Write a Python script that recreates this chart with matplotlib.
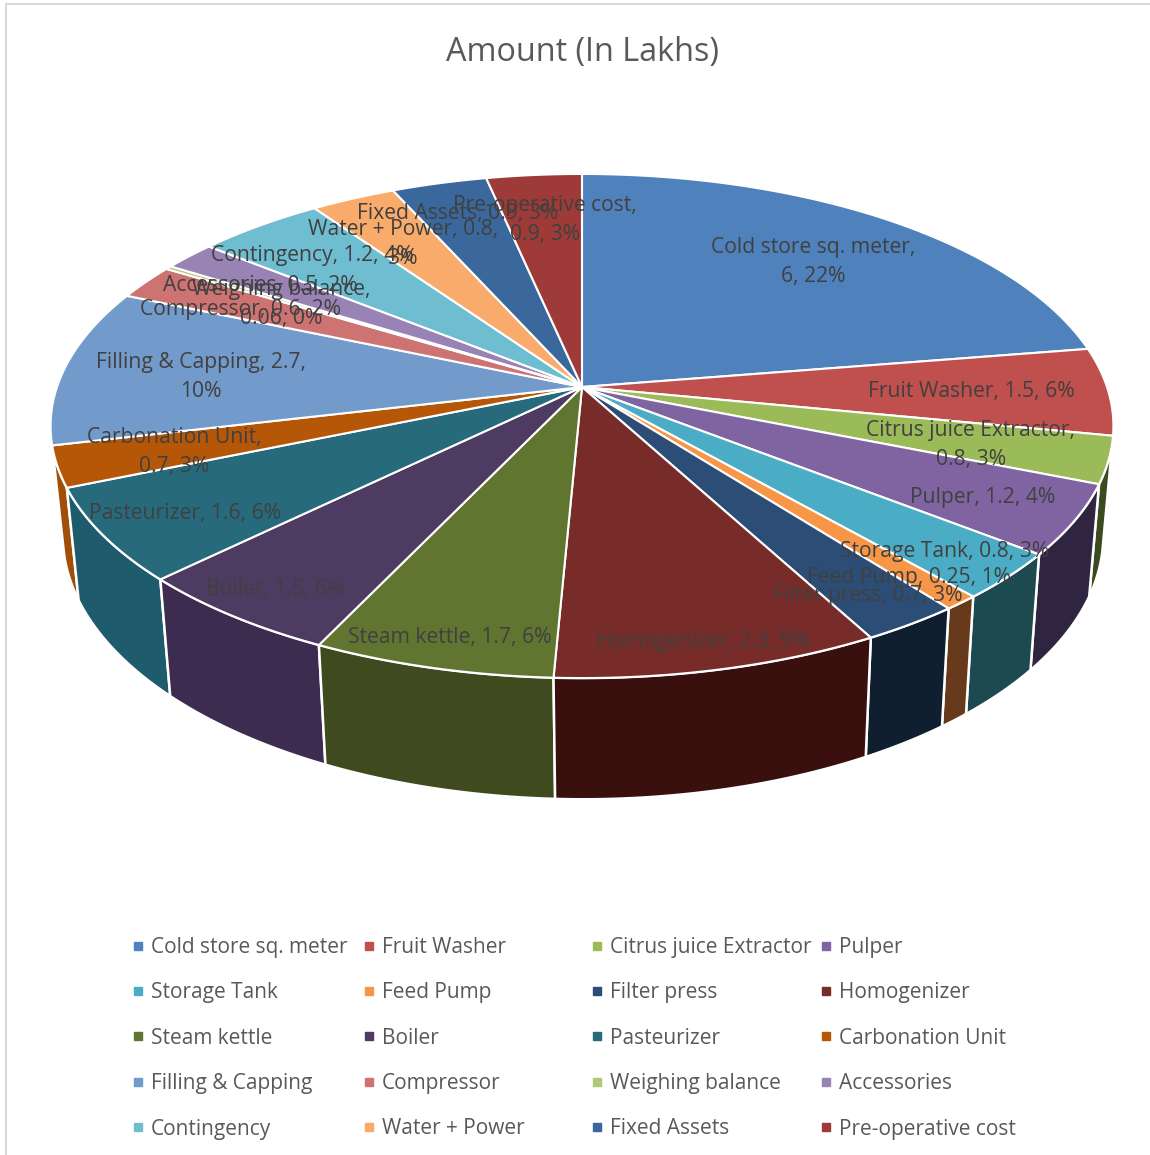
#!/usr/bin/env python3
"""Amount (In Lakhs): tilted 3D-style pie of the project cost items."""

import matplotlib
matplotlib.use('Agg')
import matplotlib.pyplot as plt
from matplotlib.lines import Line2D
import numpy as np

plt.rcParams['font.family'] = ['Open Sans', 'DejaVu Sans']

items = ['Cold store sq. meter', 'Fruit Washer', 'Citrus juice Extractor', 'Pulper',
         'Storage Tank', 'Feed Pump', 'Filter press', 'Homogenizer',
         'Steam kettle', 'Boiler', 'Pasteurizer', 'Carbonation Unit',
         'Filling & Capping', 'Compressor', 'Weighing balance', 'Accessories',
         'Contingency', 'Water + Power', 'Fixed Assets', 'Pre-operative cost']
amounts = [6, 1.5, 0.8, 1.2,
           0.8, 0.25, 0.7, 2.3,
           1.7, 1.5, 1.6, 0.7,
           2.7, 0.6, 0.06, 0.5,
           1.2, 0.8, 0.9, 0.9]

top_colors = ['#4f81bd', '#c0504d', '#9bbb59', '#8064a2',
              '#4bacc6', '#f79646', '#2c4d75', '#772c2a',
              '#5f7530', '#4d3b62', '#276a7c', '#b65708',
              '#729aca', '#cd7371', '#afc97a', '#9983b5',
              '#6fbdd1', '#f9ab6b', '#3a679c', '#9e3a38']
wall_colors = ['#2a4565', '#682b29', '#3b4a1f', '#2f2540',
               '#1d4a50', '#663a1a', '#0f1f30', '#3a100e',
               '#3f4a1e', '#3d2c50', '#1e5c6d', '#a04e08',
               '#3d5370', '#6e3e3d', '#5e6c42', '#524662',
               '#3c6671', '#865c3a', '#1f3854', '#551f1e']

# label centres in figure pixels, same order as items
label_pos = [(813, 262), (971, 392), (971, 445), (983, 498),
             (945, 551), (909, 578), (868, 596), (703, 641),
             (450, 637), (275, 590), (185, 514), (174, 452),
             (201, 377), (241, 309), (281, 304), (260, 285),
             (312, 255), (403, 244), (458, 214), (545, 220)]
break_after_name = {'Cold store sq. meter', 'Citrus juice Extractor', 'Carbonation Unit',
                    'Weighing balance', 'Pre-operative cost'}
break_before_pct = {'Filling & Capping', 'Water + Power'}

W, H = 1150, 1155
CX, CY = 582, 387   # hub of the pie
A, B, K = 525, 246, 0.1548  # perspective of the tilted disc


def project(theta):
    """Rim point for angle theta (degrees, clockwise from 12 o'clock)."""
    t = np.radians(90 - np.asarray(theta, dtype=float))
    u, v = np.cos(t), np.sin(t)
    w = 1 + K * v
    return CX + A * u / w, CY - B * v / w


def drop(x, y):
    """Same rim point on the underside of the disc."""
    return CX + 1 + (x - CX) * 0.979, 1.046 * y + 90


def label_text(name, val, total):
    pct = round(val / total * 100)
    if name in break_after_name:
        return f'{name},\n{val}, {pct}%'
    if name in break_before_pct:
        return f'{name}, {val},\n{pct}%'
    return f'{name}, {val}, {pct}%'


fig = plt.figure(figsize=(W / 100, H / 100), dpi=100, facecolor='white')
ax = fig.add_axes([0, 0, 1, 1])
ax.set_xlim(0, W)
ax.set_ylim(H, 0)
ax.axis('off')

# thin page frame on the top and left
ax.plot([6, 6, W], [H, 4, 4], color='#d9d9d9', lw=1.5, zorder=1)

total = sum(amounts)
edges = np.concatenate([[0], np.cumsum(amounts)]) / total * 360

# side walls first, back to front, then the top face over them
walls = []
for i in range(len(amounts)):
    theta = np.linspace(edges[i], edges[i + 1], 60)
    x, y = project(theta)
    xb, yb = drop(x, y)
    walls.append((y.max(), np.r_[x, xb[::-1]], np.r_[y, yb[::-1]], wall_colors[i]))
for _, px, py, col in sorted(walls, key=lambda w: w[0]):
    ax.fill(px, py, facecolor=col, edgecolor='white', lw=1.8, zorder=2)

for i in range(len(amounts)):
    theta = np.linspace(edges[i], edges[i + 1], 60)
    x, y = project(theta)
    ax.fill(np.r_[CX, x], np.r_[CY, y], facecolor=top_colors[i], edgecolor='white',
            lw=1.5, joinstyle='round', zorder=3)

for name, val, (lx, ly) in zip(items, amounts, label_pos):
    ax.text(lx, ly, label_text(name, val, total), ha='center', va='center', fontsize=15.2,
            color='#404040', linespacing=1.55, zorder=5)

ax.text(582, 52, 'Amount (In Lakhs)', ha='center', va='center', fontsize=23.3,
        color='#595959', zorder=5)

# legend is four columns read row by row
col_x = [130, 361, 589, 818]
for c, x0 in enumerate(col_x):
    handles = [Line2D([], [], linestyle='none', marker='s', markersize=6, color=top_colors[j],
                      label=items[j]) for j in range(c, len(items), 4)]
    fig.legend(handles=handles, loc='upper left', frameon=False,
               bbox_to_anchor=(x0 / W, 1 - 937 / H),
               borderpad=0, borderaxespad=0, handlelength=0.8, handletextpad=0.2,
               labelspacing=1.17, fontsize=15, labelcolor='#595959')

fig.savefig('out.png', dpi=100, facecolor='white')
